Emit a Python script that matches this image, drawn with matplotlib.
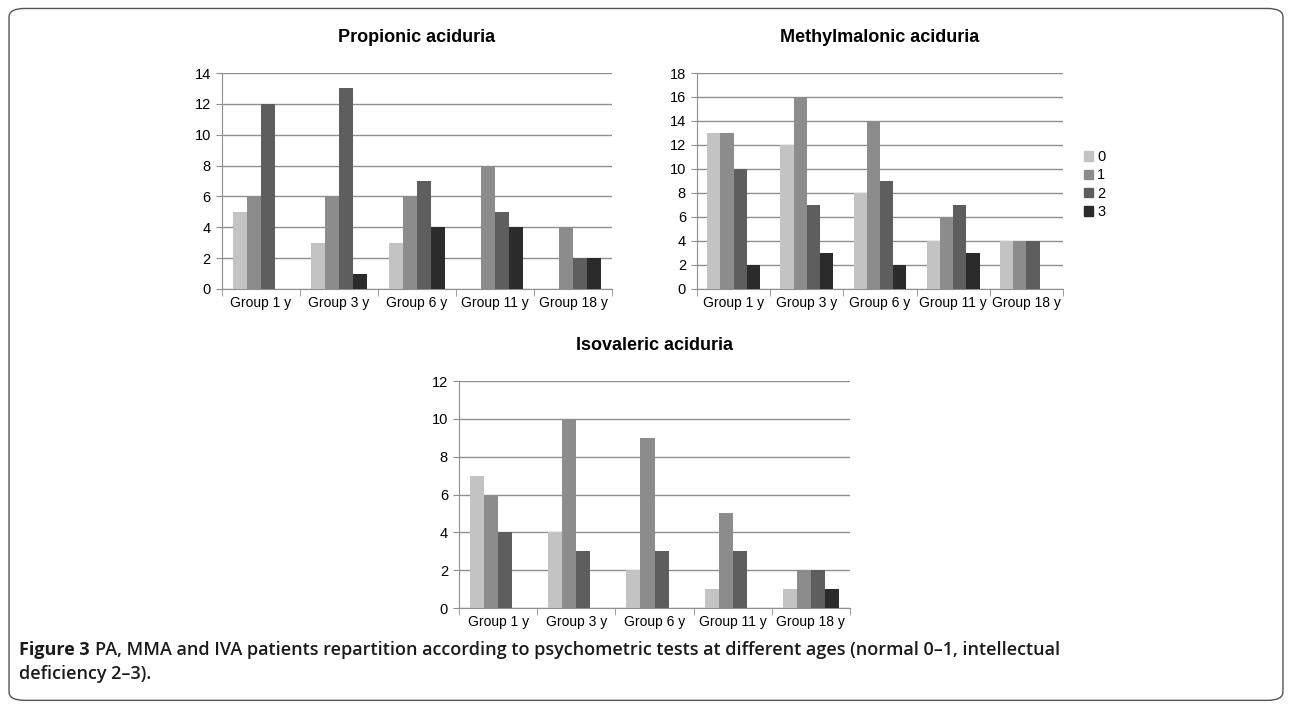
import numpy as np
import matplotlib.pyplot as plt
from matplotlib.patches import FancyBboxPatch, Patch

plt.rcParams['font.family'] = ['Liberation Sans', 'DejaVu Sans']

groups = ["Group 1 y", "Group 3 y", "Group 6 y", "Group 11 y", "Group 18 y"]
levels = ["0", "1", "2", "3"]
colors = ["#c3c3c3", "#8c8c8c", "#5e5e5e", "#2b2b2b"]

pa_0 = [5, 3, 3, 0, 0]
pa_1 = [6, 6, 6, 8, 4]
pa_2 = [12, 13, 7, 5, 2]
pa_3 = [0, 1, 4, 4, 2]

mma_0 = [13, 12, 8, 4, 4]
mma_1 = [13, 16, 14, 6, 4]
mma_2 = [10, 7, 9, 7, 4]
mma_3 = [2, 3, 2, 3, 0]

iva_0 = [7, 4, 2, 1, 1]
iva_1 = [6, 10, 9, 5, 2]
iva_2 = [4, 3, 3, 3, 2]
iva_3 = [0, 0, 0, 0, 1]


def bar_panel(ax, series, title, ymax):
    x = np.arange(len(groups))
    w = 0.18
    for i, vals in enumerate(series):
        ax.bar(x + (i - 1.5) * w, vals, w, color=colors[i], zorder=3)
    ax.set_xlim(-0.5, len(groups) - 0.5)
    ax.set_ylim(0, ymax)
    ax.set_yticks(np.arange(0, ymax + 1, 2))
    ax.grid(axis='y', color='#8f8f8f', linewidth=1.0, zorder=0)
    ax.set_xticks(x)
    ax.set_xticklabels(groups, fontsize=10)
    ax.tick_params(axis='x', length=0, pad=5)
    ax.set_xticks(np.arange(-0.5, len(groups)), minor=True)
    ax.tick_params(axis='x', which='minor', length=5, color='#8f8f8f', direction='out')
    ax.tick_params(axis='y', length=4, color='#8f8f8f', labelsize=10.5, pad=4)
    for s in ['top', 'right']:
        ax.spines[s].set_visible(False)
    for s in ['left', 'bottom']:
        ax.spines[s].set_color('#8f8f8f')
    ax.set_title(title, fontsize=13, fontweight='bold', pad=22)


fig = plt.figure(figsize=(12.92, 7.06), dpi=100)

ax1 = fig.add_axes([0.1718, 0.5907, 0.3019, 0.3059])
bar_panel(ax1, [pa_0, pa_1, pa_2, pa_3], "Propionic aciduria", 14)

ax2 = fig.add_axes([0.5395, 0.5907, 0.2833, 0.3059])
bar_panel(ax2, [mma_0, mma_1, mma_2, mma_3], "Methylmalonic aciduria", 18)

ax3 = fig.add_axes([0.3553, 0.1388, 0.3026, 0.3215])
bar_panel(ax3, [iva_0, iva_1, iva_2, iva_3], "Isovaleric aciduria", 12)

handles = [Patch(color=c) for c in colors]
fig.legend(handles, levels, loc='upper left', bbox_to_anchor=(0.829, 0.806),
           frameon=False, fontsize=10.5, handlelength=0.6, handleheight=0.6,
           handletextpad=0.3, labelspacing=0.3)

border = FancyBboxPatch((0.007, 0.008), 0.986, 0.98, boxstyle="round,pad=0,rounding_size=0.012",
                        transform=fig.transFigure, fill=False, edgecolor='#555555', linewidth=1.0)
fig.patches.append(border)

# caption: bold label, then the rest placed right after it
cap_font = ['Open Sans', 'DejaVu Sans']
lab = fig.text(0.015, 0.079, "Figure 3", fontsize=13, family=cap_font,
               fontweight='bold', color='#1a1a1a', va='center')
renderer = fig.canvas.get_renderer()
bb = lab.get_window_extent(renderer).transformed(fig.transFigure.inverted())
fig.text(bb.x1 + 0.004, 0.079,
         "PA, MMA and IVA patients repartition according to psychometric tests at different ages (normal 0–1, intellectual",
         fontsize=13, family=cap_font, fontweight='semibold', color='#1a1a1a', va='center')
fig.text(0.015, 0.045, "deficiency 2–3).", fontsize=13, family=cap_font, fontweight='semibold',
         color='#1a1a1a', va='center')

fig.savefig("out.png", dpi=100)
